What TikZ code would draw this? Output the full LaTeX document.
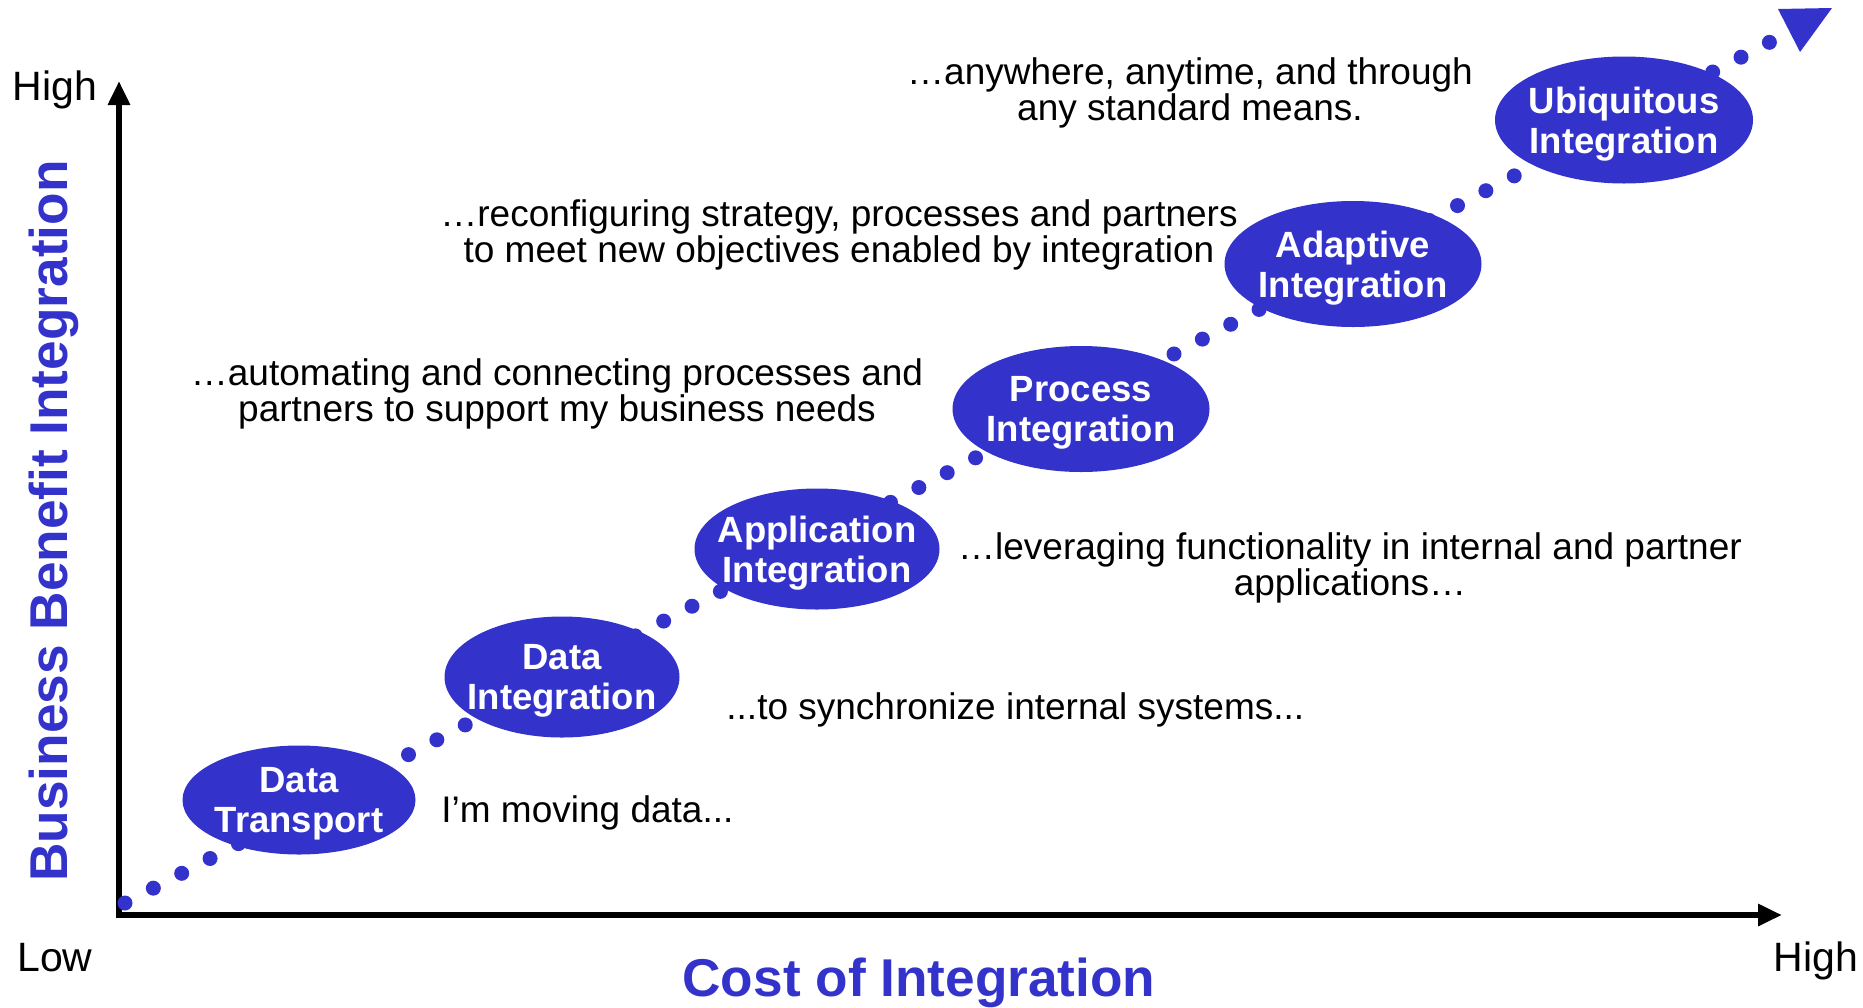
\documentclass[tikz,border=0pt]{standalone}
\usepackage{fontspec}
\setmainfont{Liberation Sans}
\usepackage{xcolor}
\usepackage{tikz}
\usetikzlibrary{shapes.geometric,arrows.meta}
\definecolor{stagecolor}{HTML}{3333CC}

\tikzset{
  stage/.style={ellipse, fill=stagecolor, text=white, inner xsep=-12pt, inner ysep=0pt, text depth=0pt, align=center, font=\fontsize{18.25pt}{20pt}\selectfont\bfseries},
  remark/.style={inner sep=0pt, align=center, font=\fontsize{18.5pt}{18pt}\selectfont},
  axislabel/.style={inner sep=0pt, font=\fontsize{20.5pt}{24pt}\selectfont},
  axistitle/.style={inner sep=0pt, text=stagecolor, font=\fontsize{26.6pt}{32pt}\selectfont\bfseries},
}

\begin{document}
\begin{tikzpicture}[x=0.5pt, y=-0.5pt]
\useasboundingbox (0,0) rectangle (1863,1007);
% axes
\coordinate (origin) at (119,915);
\coordinate (ytop) at (119,81);
\coordinate (xend) at (1782,915);
\draw[line width=3pt, {Triangle[length=12pt,width=10.5pt]}-{Triangle[length=12pt,width=10.5pt]}] (ytop) -- (origin) -- (xend);
% dotted growth line
\coordinate (dstart) at (125,903);
\coordinate (dend) at (1770,42);
\draw[stagecolor, line width=7.5pt, line cap=round, dash pattern=on 0pt off 16pt] (dstart) -- (dend);
\fill[stagecolor] (1778,9) -- (1832,8) -- (1800,52) -- cycle;
% stages
\node[stage, minimum width=116.5pt, minimum height=54.5pt] (trans) at (299,800) {Data\\Transport};
\node[stage, minimum width=117.5pt, minimum height=60.5pt] (dint) at (562,677) {Data\\Integration};
\node[stage, minimum width=122.5pt, minimum height=60.5pt] (aint) at (817,549) {Application\\Integration};
\node[stage, minimum width=128.5pt, minimum height=63pt] (pint) at (1081,409) {Process\\Integration};
\node[stage, minimum width=128.5pt, minimum height=63pt] (adint) at (1353,264) {Adaptive\\Integration};
\node[stage, minimum width=129pt, minimum height=63.5pt] (uint) at (1624,120) {Ubiquitous\\Integration};
% remarks
\node[remark, anchor=base west] (rtrans) at (441,822) {I’m moving data...};
\node[remark, anchor=base west] (rdint) at (726,719) {...to synchronize internal systems...};
\node[remark, anchor=north] (raint) at (1350,532) {…leveraging functionality in internal and partner\\applications…};
\node[remark, anchor=north] (rpint) at (557,358) {…automating and connecting processes and\\partners to support my business needs};
\node[remark, anchor=north] (radint) at (839,199) {…reconfiguring strategy, processes and partners\\to meet new objectives enabled by integration};
\node[remark, anchor=north] (ruint) at (1190,57) {…anywhere, anytime, and through\\any standard means.};
% axis labels
\node[axislabel, anchor=base] (yhigh) at (55,100) {High};
\node[axislabel, anchor=base] (xlow) at (55,971) {Low};
\node[axislabel, anchor=base] (xhigh) at (1816,971) {High};
\node[axistitle, anchor=base] (xtitle) at (919,996) {Cost of Integration};
\node[axistitle, anchor=base, rotate=90] (ytitle) at (67,521) {Business Benefit Integration};
\end{tikzpicture}
\end{document}
